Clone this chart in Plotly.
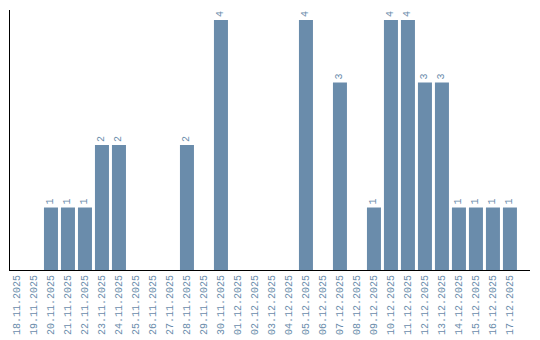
import plotly.graph_objects as go

dates = ["18.11.2025","19.11.2025","20.11.2025","21.11.2025","22.11.2025","23.11.2025",
         "24.11.2025","25.11.2025","26.11.2025","27.11.2025","28.11.2025","29.11.2025",
         "30.11.2025","01.12.2025","02.12.2025","03.12.2025","04.12.2025","05.12.2025",
         "06.12.2025","07.12.2025","08.12.2025","09.12.2025","10.12.2025","11.12.2025",
         "12.12.2025","13.12.2025","14.12.2025","15.12.2025","16.12.2025","17.12.2025"]
counts = [0,0,1,1,1,2,2,0,0,0,2,0,4,0,0,0,0,4,0,3,0,1,4,4,3,3,1,1,1,1]

labels = [str(c) if c > 0 else "" for c in counts]

FONT = "Liberation Mono"
BLUE = "#6a8cab"

fig = go.Figure(go.Bar(
    x=dates, y=counts, text=labels, textposition="outside", textangle=-90,
    marker=dict(color=BLUE, line=dict(width=0)),
    textfont=dict(family=FONT, size=10, color=BLUE),
    outsidetextfont=dict(family=FONT, size=10, color=BLUE),
    cliponaxis=False,
))
fig.update_layout(
    width=540, height=340, margin=dict(l=10, r=10, t=10, b=70),
    plot_bgcolor="white", paper_bgcolor="white", bargap=0.176,
    showlegend=False,
    font=dict(family=FONT, size=10, color=BLUE),
    uniformtext=dict(minsize=10, mode="show"),
)
fig.update_xaxes(type="category", range=[-0.41, 30.18], tickangle=-90, showline=True,
                 linecolor="black", linewidth=1.2, ticks="", showgrid=False,
                 automargin=False,
                 tickfont=dict(family=FONT, size=10, color=BLUE))
fig.update_yaxes(range=[0, 4.16], showline=True, linecolor="black", linewidth=1.2,
                 showticklabels=False, ticks="", showgrid=False, zeroline=False,
                 automargin=False)
fig.write_html("out.html")
